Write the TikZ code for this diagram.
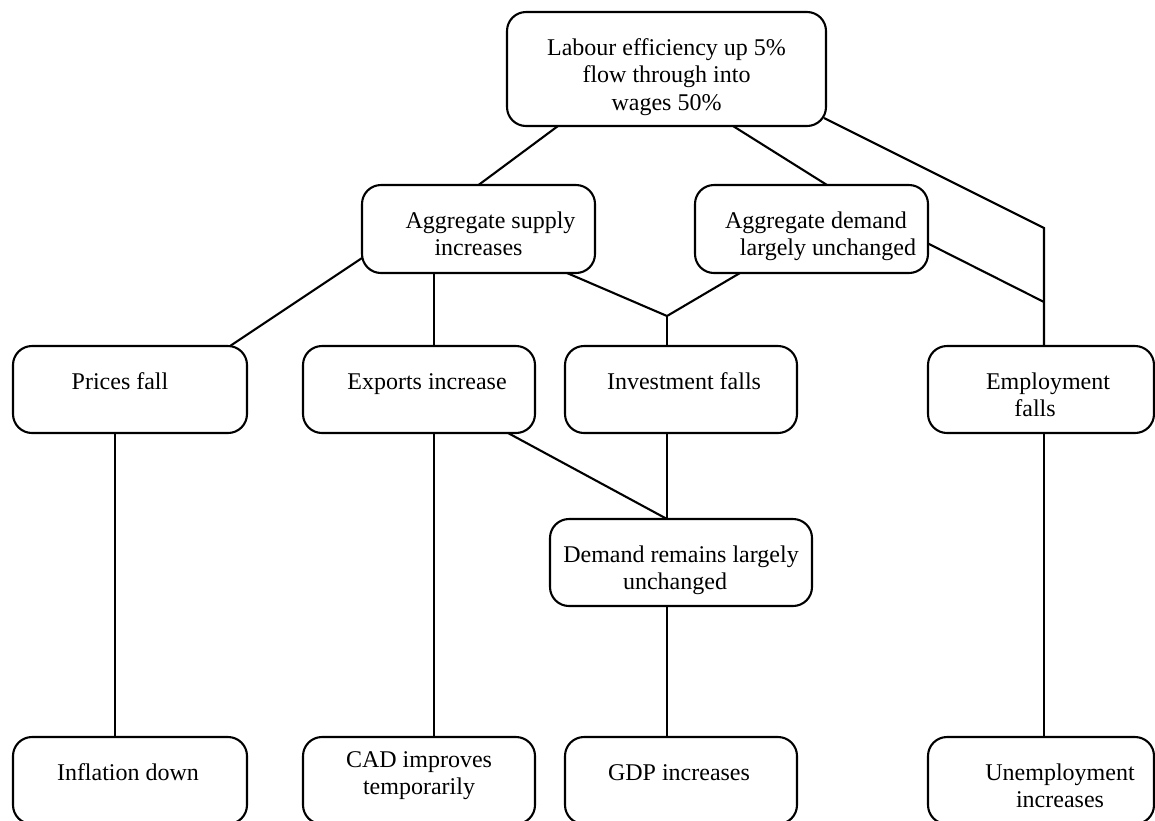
\documentclass[tikz,border=0pt]{standalone}
\usepackage{fontspec}
\setmainfont{Liberation Serif}
\begin{document}
\begin{tikzpicture}[x=1pt,y=-1pt,
  box/.style={draw, line width=2.1pt, rounded corners=19pt, rectangle, outer sep=0pt, inner sep=0pt},
  txt/.style={font=\fontsize{24}{27.6}\selectfont, align=center, inner sep=0pt, outer sep=0pt, anchor=north},
  conn/.style={line width=2.1pt}]
\useasboundingbox (0,0) rectangle (1155,820);
\clip (0,0) rectangle (1155,820);

% boxes
\node[box, minimum width=319pt, minimum height=114pt] (top) at (666.5,69) {};
\node[box, minimum width=233pt, minimum height=88pt] (as) at (478.5,229) {};
\node[box, minimum width=233pt, minimum height=88pt] (ad) at (811.5,229) {};
\node[box, minimum width=234pt, minimum height=87pt] (prices) at (130,389.5) {};
\node[box, minimum width=232pt, minimum height=87pt] (exports) at (419,389.5) {};
\node[box, minimum width=232pt, minimum height=87pt] (invest) at (681,389.5) {};
\node[box, minimum width=226pt, minimum height=87pt] (employ) at (1041,389.5) {};
\node[box, minimum width=262pt, minimum height=87pt] (demand) at (681,562.5) {};
\node[box, minimum width=234pt, minimum height=87pt] (inflation) at (130,780.5) {};
\node[box, minimum width=232pt, minimum height=87pt] (cad) at (419,780.5) {};
\node[box, minimum width=232pt, minimum height=87pt] (gdp) at (681,780.5) {};
\node[box, minimum width=226pt, minimum height=87pt] (unemp) at (1041,780.5) {};

% texts
\node[txt] (ttop) at ([yshift=-23.7pt]top.north) {\strut Labour efficiency up 5\%\\ \strut flow through into\\ \strut wages 50\%};
\node[txt] (tas) at ([yshift=-23.7pt]as.north) {\strut\rule{24pt}{0pt}Aggregate supply\\ \strut increases};
\node[txt] (tad) at ([xshift=4.5pt,yshift=-23.7pt]ad.north) {\strut Aggregate demand\\ \strut\rule{24pt}{0pt}largely unchanged};
\node[txt] (tprices) at ([xshift=-10pt,yshift=-23.7pt]prices.north) {\strut Prices fall};
\node[txt] (texports) at ([xshift=8pt,yshift=-23.7pt]exports.north) {\strut Exports increase};
\node[txt] (tinvest) at ([xshift=3pt,yshift=-23.7pt]invest.north) {\strut Investment falls};
\node[txt] (temploy) at ([yshift=-23.7pt]employ.north) {\strut\rule{14pt}{0pt}Employment\\ \strut falls\rule{12pt}{0pt}};
\node[txt] (tdemand) at ([yshift=-23.7pt]demand.north) {\strut Demand remains largely\\ \strut unchanged\rule{12pt}{0pt}};
\node[txt] (tinflation) at ([xshift=-2pt,yshift=-23.7pt]inflation.north) {\strut Inflation down};
\node[txt] (tcad) at ([yshift=-10.7pt]cad.north) {\strut CAD improves\\ \strut temporarily};
\node[txt] (tgdp) at ([xshift=-2pt,yshift=-23.7pt]gdp.north) {\strut GDP increases};
\node[txt] (tunemp) at ([xshift=19pt,yshift=-23.7pt]unemp.north) {\strut Unemployment\\ \strut increases};

% junctions
\coordinate (k1) at (1044,228);
\coordinate (k2) at (1044,302);
\coordinate (k3) at (667,316);

% connectors
\draw[conn] ([xshift=-108.5pt]top.south) -- (as.north);
\draw[conn] ([xshift=66.5pt]top.south) -- ([xshift=15.5pt]ad.north);
\draw[conn] ([xshift=-2pt,yshift=8pt]top.south east) -- (k1) -- ([xshift=3pt]employ.north);
\draw[conn] ([yshift=-14.5pt]ad.east) -- (k2);
\draw[conn] ([yshift=-29pt]as.west) -- ([xshift=100pt]prices.north);
\draw[conn] ([xshift=-44.5pt]as.south) -- ([xshift=15pt]exports.north);
\draw[conn] ([xshift=88.5pt]as.south) -- (k3);
\draw[conn] ([xshift=-71.5pt]ad.south) -- (k3);
\draw[conn] (k3) -- ([xshift=-14pt]invest.north);
\draw[conn] ([xshift=-15pt]prices.south) -- ([xshift=-15pt]inflation.north);
\draw[conn] ([xshift=15pt]exports.south) -- ([xshift=15pt]cad.north);
\draw[conn] ([xshift=89pt]exports.south) -- ([xshift=-14pt]demand.north);
\draw[conn] ([xshift=-14pt]invest.south) -- ([xshift=-14pt]demand.north);
\draw[conn] ([xshift=-14pt]demand.south) -- ([xshift=-14pt]gdp.north);
\draw[conn] ([xshift=3pt]employ.south) -- ([xshift=3pt]unemp.north);
\end{tikzpicture}
\end{document}
